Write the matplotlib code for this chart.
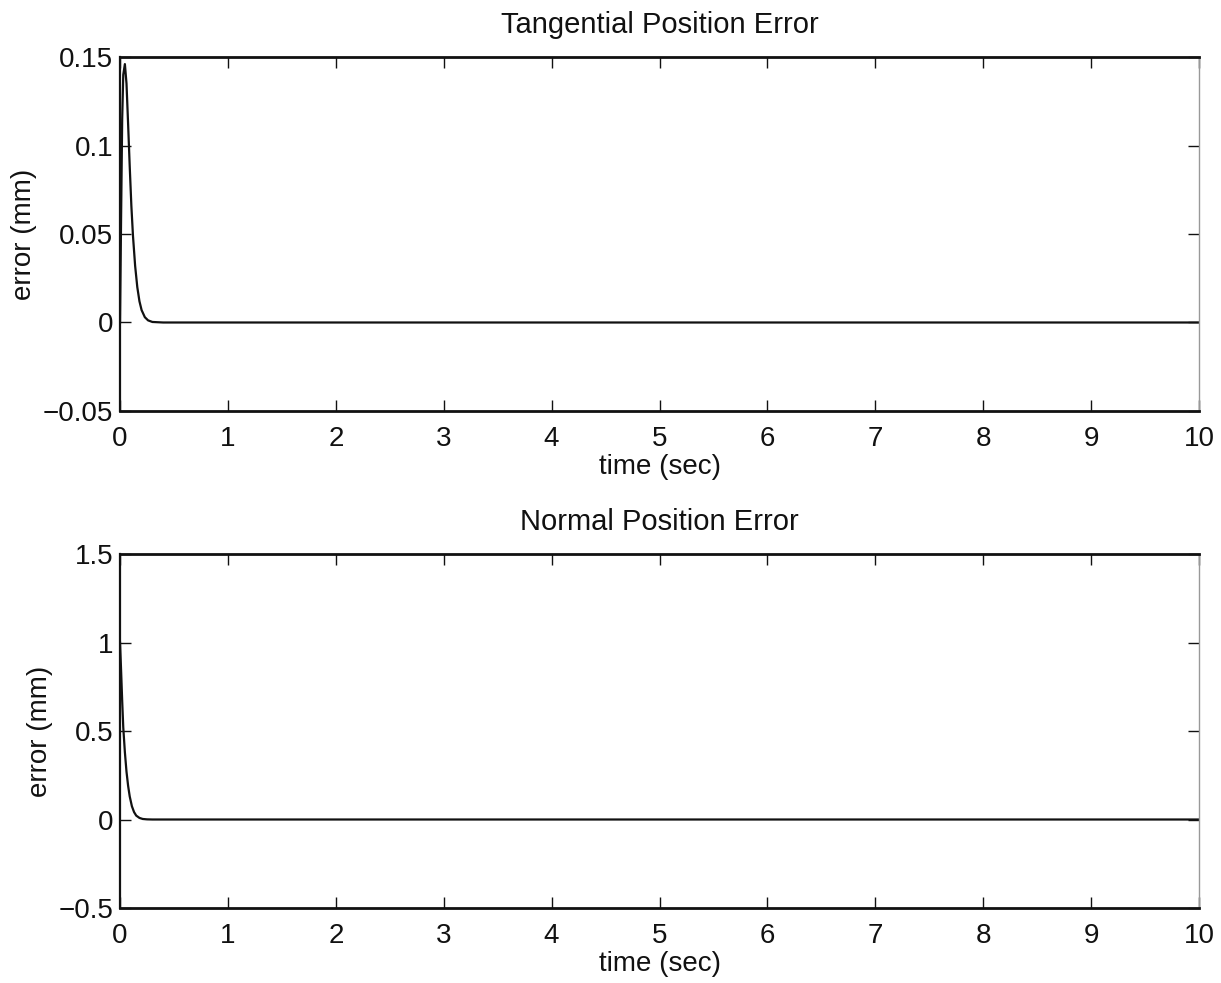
import matplotlib
matplotlib.use("Agg")
import matplotlib.pyplot as plt
import numpy as np

plt.rcParams['font.family'] = ['Liberation Sans', 'DejaVu Sans']

# Tangential position error (mm) vs time (sec)
tan_t = [0.0, 0.01, 0.02, 0.03, 0.045, 0.06, 0.075, 0.09, 0.105, 0.12, 0.14,
         0.16, 0.18, 0.2, 0.23, 0.26, 0.3, 0.4, 10.0]
tan_err = [0.0, 0.06, 0.115, 0.14, 0.146, 0.135, 0.112, 0.088, 0.066, 0.049,
           0.032, 0.02, 0.012, 0.007, 0.003, 0.0012, 0.0003, 0.0, 0.0]

# Normal position error (mm) vs time (sec)
nor_t = [0.0, 0.01, 0.02, 0.03, 0.045, 0.06, 0.075, 0.09, 0.11, 0.13, 0.15,
         0.18, 0.21, 0.25, 0.3, 10.0]
nor_err = [1.0, 0.84, 0.67, 0.52, 0.38, 0.27, 0.19, 0.13, 0.075, 0.042, 0.022,
           0.009, 0.003, 0.0008, 0.0, 0.0]

x_ticks = list(range(0, 11))
tan_yticks = [-0.05, 0, 0.05, 0.1, 0.15]
tan_ylabels = ['\u22120.05', '0', '0.05', '0.1', '0.15']
nor_yticks = [-0.5, 0, 0.5, 1, 1.5]
nor_ylabels = ['\u22120.5', '0', '0.5', '1', '1.5']

fig = plt.figure(figsize=(12.21, 9.83), dpi=100)
ax1 = fig.add_axes([0.0983, 0.5819, 0.8837, 0.3601])
ax2 = fig.add_axes([0.0983, 0.0763, 0.8837, 0.3601])


def style(ax, yticks, ylabels, ylim, title):
    ax.set_xlim(0, 10)
    ax.set_ylim(*ylim)
    ax.set_xticks(x_ticks)
    ax.set_xticklabels([str(v) for v in x_ticks])
    ax.set_yticks(yticks)
    ax.set_yticklabels(ylabels)
    ax.tick_params(direction='in', length=8, width=1.0, labelsize=20,
                   top=True, right=True, pad=5, colors='#111111')
    ax.tick_params(axis='x', pad=11)
    for side in ('top', 'bottom'):
        ax.spines[side].set_linewidth(2.0)
        ax.spines[side].set_color('#111111')
    ax.spines['left'].set_linewidth(1.6)
    ax.spines['left'].set_color('#111111')
    ax.spines['right'].set_linewidth(1.0)
    ax.spines['right'].set_color('#999999')
    ax.set_xlabel('time (sec)', fontsize=20, labelpad=1, color='#111111')
    ax.set_ylabel('error (mm)', fontsize=20, labelpad=4, color='#111111')
    ax.set_title(title, fontsize=21, pad=17, color='#111111')


ax1.plot(tan_t, tan_err, color='#111111', lw=1.6)
style(ax1, tan_yticks, tan_ylabels, (-0.05, 0.15), 'Tangential Position Error')

ax2.plot(nor_t, nor_err, color='#111111', lw=1.6)
style(ax2, nor_yticks, nor_ylabels, (-0.5, 1.5), 'Normal Position Error')

fig.savefig('out.png', dpi=100)
